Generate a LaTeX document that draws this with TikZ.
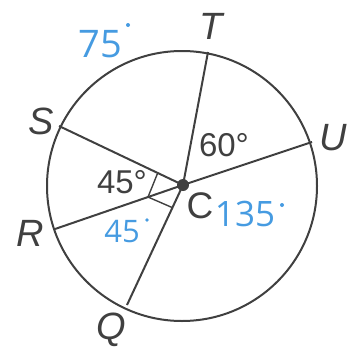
\documentclass[tikz,border=0pt]{standalone}
\usepackage{fontspec}
\setmainfont{Liberation Sans}
\newfontfamily\handfont{Open Sans}
\usetikzlibrary{calc}
\definecolor{ink}{RGB}{64,64,64}
\definecolor{penblue}{RGB}{70,155,225}
\tikzset{
  geo/.style={draw=ink, line width=2pt},
  ptlabel/.style={text=ink, font=\fontsize{38}{40}\selectfont\itshape, inner sep=0pt},
  anglabel/.style={text=ink, font=\fontsize{33}{35}\selectfont, inner sep=0pt},
  hand/.style={text=penblue, inner sep=0pt},
  penddot/.style={fill=penblue},
}
\begin{document}
\begin{tikzpicture}[x=1pt,y=-1pt]
\useasboundingbox (0,0) rectangle (348,348);
% circle
\coordinate (O) at (182,186);
\draw[geo] (O) circle (135);
% points
\coordinate (C) at (183,185);
\coordinate (T) at (208,52);
\coordinate (U) at (312,142);
\coordinate (S) at (59,126);
\coordinate (R) at (55,229);
\coordinate (Q) at (127,305);
\draw[geo] (C) -- (T);
\draw[geo] (C) -- (U);
\draw[geo] (C) -- (S);
\draw[geo] (C) -- (R);
\draw[geo] (C) -- (Q);
% angle marks
\coordinate (m1) at ($(C)!28pt!(S)$);
\coordinate (m2) at ($(C)!37pt!(R)$);
\coordinate (m3) at ($(C)!25pt!(Q)$);
\draw[draw=ink, line width=1.4pt] (m1) -- (m2) -- (m3);
% centre dot
\fill[ink] (C) circle (6);
% labels
\node[ptlabel] (lT) at (211,26) {T};
\node[ptlabel] (lU) at (333,138) {U};
\node[ptlabel] (lS) at (41,121) {S};
\node[ptlabel] (lR) at (30,233) {R};
\node[ptlabel] (lQ) at (111,330) {Q};
\node[text=ink, font=\fontsize{37}{39}\selectfont, inner sep=0pt] (lC) at (200,206) {C};
\node[anglabel] (a60) at (224,145) {60°};
\node[anglabel] (a45) at (122,182) {45°};
% handwritten
\node[hand, font=\handfont\fontsize{38}{40}\selectfont] (h75) at (100,44) {75};
\fill[penddot] (128,25) circle (2);
\node[hand, font=\handfont\fontsize{31}{33}\selectfont] (h45) at (122,232) {45};
\fill[penddot] (147,220) circle (1.8);
\node[hand, font=\handfont\fontsize{35}{37}\selectfont] (h135) at (245,214) {135};
\fill[penddot] (282,205) circle (2);
\end{tikzpicture}
\end{document}
